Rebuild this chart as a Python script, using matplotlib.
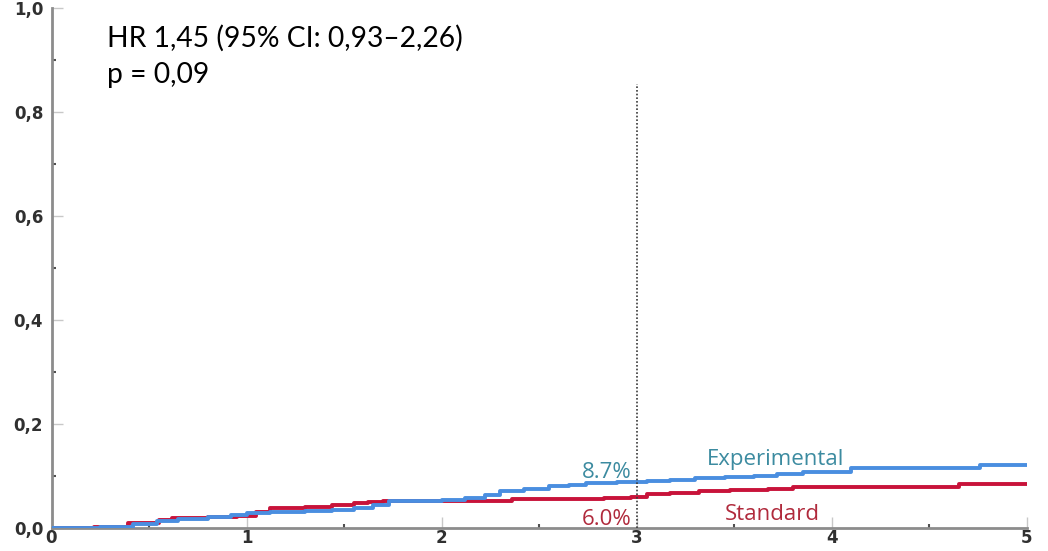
import matplotlib
matplotlib.use("Agg")
import matplotlib.pyplot as plt
from matplotlib.ticker import MultipleLocator, FuncFormatter

# cumulative incidence, step functions (years, proportion)
exp_t = [0, 0.25, 0.42, 0.54, 0.65, 0.80, 0.92, 1.00, 1.12, 1.30, 1.44, 1.55,
         1.65, 1.73, 2.00, 2.12, 2.22, 2.30, 2.42, 2.55, 2.65, 2.74, 2.90,
         3.05, 3.17, 3.30, 3.45, 3.60, 3.72, 3.85, 4.10, 4.76, 5.00]
exp_y = [0, 0.002, 0.008, 0.012, 0.016, 0.020, 0.025, 0.028, 0.031, 0.033,
         0.035, 0.038, 0.044, 0.052, 0.054, 0.057, 0.063, 0.071, 0.075, 0.080,
         0.083, 0.086, 0.087, 0.089, 0.092, 0.095, 0.097, 0.100, 0.104, 0.108,
         0.115, 0.120, 0.120]

std_t = [0, 0.22, 0.39, 0.55, 0.62, 0.80, 0.95, 1.05, 1.12, 1.30, 1.44, 1.55,
         1.62, 1.70, 2.36, 2.83, 2.97, 3.05, 3.17, 3.32, 3.48, 3.67, 3.80,
         4.65, 5.00]
std_y = [0, 0.002, 0.009, 0.014, 0.019, 0.020, 0.022, 0.030, 0.038, 0.040,
         0.044, 0.048, 0.050, 0.052, 0.055, 0.058, 0.060, 0.064, 0.067, 0.070,
         0.072, 0.075, 0.079, 0.085, 0.085]

landmark = 3
exp_at_landmark = 0.087
std_at_landmark = 0.060
hr_text = "HR 1,45 (95% CI: 0,93–2,26)"
p_text = "p = 0,09"

BLUE = "#4a8ee0"
RED = "#c8133a"
TEAL = "#3c8ba0"
DARKRED = "#b02a3c"

fig = plt.figure(figsize=(10.48, 5.51), dpi=100)
ax = fig.add_axes([51.5 / 1048, 1 - 527.7 / 551, (1027 - 51.5) / 1048, 520 / 551])

ax.step(exp_t, exp_y, where="post", color=BLUE, lw=2.8, zorder=3)
ax.step(std_t, std_y, where="post", color=RED, lw=2.8, zorder=2)
ax.plot([landmark, landmark], [0, 0.853], color="#3a3a3a", lw=1.2,
        ls=(0, (1.0, 1.2)), zorder=4)

ax.set_xlim(0, 5)
ax.set_ylim(0, 1.0)
for s in ("top", "right"):
    ax.spines[s].set_visible(False)
for s in ("left", "bottom"):
    ax.spines[s].set_color("#8c8c8c")
    ax.spines[s].set_linewidth(2)

ax.xaxis.set_major_locator(MultipleLocator(1))
ax.xaxis.set_minor_locator(MultipleLocator(0.5))
ax.yaxis.set_major_locator(MultipleLocator(0.2))
ax.yaxis.set_minor_locator(MultipleLocator(0.1))
ax.yaxis.set_major_formatter(FuncFormatter(lambda v, _: f"{v:.1f}".replace(".", ",")))
ax.tick_params(which="major", direction="in", length=8, width=1,
               color="#c8c8c8", labelsize=12, labelcolor="#303030")
ax.tick_params(which="minor", direction="in", length=3, width=1.5,
               color="#505050")
ax.tick_params(axis="y", pad=6)
ax.tick_params(axis="x", pad=1)
for lab in ax.get_xticklabels() + ax.get_yticklabels():
    lab.set_fontfamily(["Liberation Sans Narrow", "DejaVu Sans"])
    lab.set_fontweight("bold")

txt = dict(family=["Lato", "DejaVu Sans"])
fig.text(107 / 1048, 1 - 38 / 551, hr_text, fontsize=20.3, va="center", **txt)
fig.text(107 / 1048, 1 - 75 / 551, p_text, fontsize=20.3, va="center", **txt)

lbl = dict(family=["Open Sans", "DejaVu Sans"], fontsize=16)
ax.text(landmark - 0.025, 0.096, f"{exp_at_landmark * 100:.1f}%",
        color=TEAL, ha="right", va="baseline", **lbl)
ax.text(landmark - 0.025, 0.005, f"{std_at_landmark * 100:.1f}%",
        color=DARKRED, ha="right", va="baseline", **lbl)
ax.text(3.36, 0.12, "Experimental", color=TEAL, ha="left", va="baseline", **lbl)
ax.text(3.45, 0.015, "Standard", color=DARKRED, ha="left", va="baseline", **lbl)

fig.savefig("out.png", dpi=100)
